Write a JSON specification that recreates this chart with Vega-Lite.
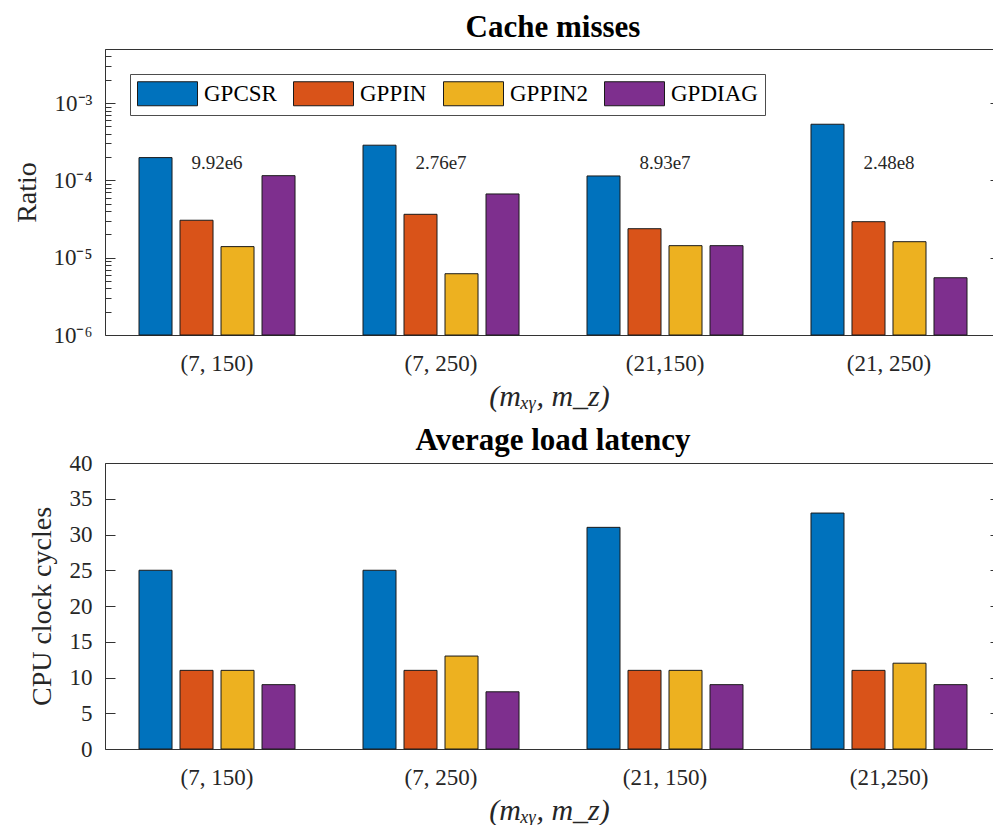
{
  "$schema": "https://vega.github.io/schema/vega-lite/v6.json",
  "padding": {"left": 13, "top": 11, "right": 0, "bottom": 0},
  "background": "white",
  "datasets": {
    "cache": [
      {"cfg": "(7, 150)", "method": "GPCSR", "ratio": 0.000197},
      {"cfg": "(7, 150)", "method": "GPPIN", "ratio": 0.0000305},
      {"cfg": "(7, 150)", "method": "GPPIN2", "ratio": 0.0000139},
      {"cfg": "(7, 150)", "method": "GPDIAG", "ratio": 0.000115},
      {"cfg": "(7, 250)", "method": "GPCSR", "ratio": 0.000285},
      {"cfg": "(7, 250)", "method": "GPPIN", "ratio": 0.0000364},
      {"cfg": "(7, 250)", "method": "GPPIN2", "ratio": 0.0000062},
      {"cfg": "(7, 250)", "method": "GPDIAG", "ratio": 0.0000667},
      {"cfg": "(21,150)", "method": "GPCSR", "ratio": 0.000114},
      {"cfg": "(21,150)", "method": "GPPIN", "ratio": 0.0000237},
      {"cfg": "(21,150)", "method": "GPPIN2", "ratio": 0.0000143},
      {"cfg": "(21,150)", "method": "GPDIAG", "ratio": 0.0000143},
      {"cfg": "(21, 250)", "method": "GPCSR", "ratio": 0.000532},
      {"cfg": "(21, 250)", "method": "GPPIN", "ratio": 0.0000292},
      {"cfg": "(21, 250)", "method": "GPPIN2", "ratio": 0.0000161},
      {"cfg": "(21, 250)", "method": "GPDIAG", "ratio": 0.0000055}
    ],
    "notes": [
      {"cfg": "(7, 150)", "note": "9.92e6"},
      {"cfg": "(7, 250)", "note": "2.76e7"},
      {"cfg": "(21,150)", "note": "8.93e7"},
      {"cfg": "(21, 250)", "note": "2.48e8"}
    ],
    "latency": [
      {"cfg": "(7, 150)", "method": "GPCSR", "cycles": 25},
      {"cfg": "(7, 150)", "method": "GPPIN", "cycles": 11},
      {"cfg": "(7, 150)", "method": "GPPIN2", "cycles": 11},
      {"cfg": "(7, 150)", "method": "GPDIAG", "cycles": 9},
      {"cfg": "(7, 250)", "method": "GPCSR", "cycles": 25},
      {"cfg": "(7, 250)", "method": "GPPIN", "cycles": 11},
      {"cfg": "(7, 250)", "method": "GPPIN2", "cycles": 13},
      {"cfg": "(7, 250)", "method": "GPDIAG", "cycles": 8},
      {"cfg": "(21, 150)", "method": "GPCSR", "cycles": 31},
      {"cfg": "(21, 150)", "method": "GPPIN", "cycles": 11},
      {"cfg": "(21, 150)", "method": "GPPIN2", "cycles": 11},
      {"cfg": "(21, 150)", "method": "GPDIAG", "cycles": 9},
      {"cfg": "(21,250)", "method": "GPCSR", "cycles": 33},
      {"cfg": "(21,250)", "method": "GPPIN", "cycles": 11},
      {"cfg": "(21,250)", "method": "GPPIN2", "cycles": 12},
      {"cfg": "(21,250)", "method": "GPDIAG", "cycles": 9}
    ]
  },
  "spacing": 14,
  "resolve": {"scale": {"color": "independent"}, "legend": {"color": "independent"}},
  "vconcat": [
    {
      "width": 888,
      "height": 286,
      "title": {"text": "Cache misses", "frame": "group", "anchor": "middle", "dx": 4, "offset": -19, "baseline": "alphabetic"},
      "layer": [
        {
          "data": {"name": "cache"},
          "mark": {"type": "bar", "stroke": "#1a1a1a", "strokeWidth": 1},
          "encoding": {
            "x": {
              "field": "cfg", "type": "nominal", "sort": null,
              "scale": {"paddingInner": 0.0714, "paddingOuter": 0.0179, "align": 1},
              "axis": {"orient": "bottom", "title": "(mₓᵧ, m_z)", "ticks": false, "labelAngle": 0, "labelPadding": 17, "titlePadding": 6, "titleFontSize": 30, "titleFontStyle": "italic"}
            },
            "xOffset": {
              "field": "method", "type": "nominal", "sort": ["GPCSR", "GPPIN", "GPPIN2", "GPDIAG"],
              "scale": {"paddingInner": 0.195, "paddingOuter": 0.634}
            },
            "y": {
              "field": "ratio", "type": "quantitative", "stack": null,
              "scale": {"type": "log", "domain": [0.000001, 0.005], "nice": false},
              "axis": {
                "orient": "left", "title": "Ratio", "titleX": -78, "titleY": 143, "titleBaseline": "middle", "titleAlign": "center",
                "values": [0.000001, 0.000002, 0.000003, 0.000004, 0.000005, 0.000006, 0.000007, 0.000008, 0.000009,
                           0.00001, 0.00002, 0.00003, 0.00004, 0.00005, 0.00006, 0.00007, 0.00008, 0.00009,
                           0.0001, 0.0002, 0.0003, 0.0004, 0.0005, 0.0006, 0.0007, 0.0008, 0.0009,
                           0.001, 0.002, 0.003, 0.004, 0.005],
                "labelExpr": "datum.value == 0.001 ? '10⁻³' : datum.value == 0.0001 ? '10⁻⁴' : datum.value == 0.00001 ? '10⁻⁵' : datum.value == 0.000001 ? '10⁻⁶' : ''",
                "tickSize": {"condition": {"test": "indexof([0.000001, 0.00001, 0.0001, 0.001], datum.value) >= 0", "value": -10}, "value": -6},
                "labelPadding": 23,
                "labelBaseline": "middle"
              }
            },
            "y2": {"datum": 0.000001},
            "color": {
              "field": "method", "type": "nominal",
              "scale": {"domain": ["GPCSR", "GPPIN", "GPPIN2", "GPDIAG"], "range": ["#0072BD", "#D95319", "#EDB120", "#7E2F8E"]},
              "legend": {
                "orient": "none", "legendX": 25, "legendY": 25, "direction": "horizontal", "title": null,
                "symbolType": "M-1,-1H4V1H-1Z", "symbolSize": 576, "symbolStrokeColor": "#1a1a1a", "symbolStrokeWidth": 1, "symbolOpacity": 1,
                "labelOffset": 42, "columnPadding": 14, "labelFontSize": 23, "labelFont": "Liberation Serif", "labelColor": "#000",
                "padding": 7, "strokeColor": "#4d4d4d", "fillColor": "white"
              }
            }
          }
        },
        {
          "data": {"name": "notes"},
          "mark": {"type": "text", "fontSize": 19, "font": "Liberation Serif", "color": "#262626", "baseline": "middle", "align": "center"},
          "encoding": {
            "x": {"field": "cfg", "type": "nominal", "sort": null, "axis": {"orient": "top", "title": null, "labels": false, "ticks": false, "domain": true}},
            "y": {"datum": 0.000168, "type": "quantitative", "axis": {"orient": "right", "title": null, "labels": false, "domain": false, "ticks": true, "tickSize": -3, "values": [0.000001, 0.00001, 0.0001, 0.001]}},
            "text": {"field": "note"}
          }
        }
      ],
      "resolve": {"axis": {"x": "independent", "y": "independent"}}
    },
    {
      "width": 888,
      "height": 286,
      "title": {"text": "Average load latency", "frame": "group", "anchor": "middle", "dx": 4, "offset": -29, "baseline": "alphabetic"},
      "layer": [
        {
          "data": {"name": "latency"},
          "mark": {"type": "bar", "stroke": "#1a1a1a", "strokeWidth": 1},
          "encoding": {
            "x": {
              "field": "cfg", "type": "nominal", "sort": null,
              "scale": {"paddingInner": 0.0714, "paddingOuter": 0.0179, "align": 1},
              "axis": {"orient": "bottom", "title": "(mₓᵧ, m_z)", "ticks": false, "labelAngle": 0, "labelPadding": 17, "titlePadding": 6, "titleFontSize": 30, "titleFontStyle": "italic"}
            },
            "xOffset": {
              "field": "method", "type": "nominal", "sort": ["GPCSR", "GPPIN", "GPPIN2", "GPDIAG"],
              "scale": {"paddingInner": 0.195, "paddingOuter": 0.634}
            },
            "y": {
              "field": "cycles", "type": "quantitative", "stack": null,
              "scale": {"domain": [0, 40], "nice": false},
              "axis": {
                "orient": "left", "title": "CPU clock cycles", "titleX": -63, "titleY": 143, "titleBaseline": "middle", "titleAlign": "center",
                "values": [0, 5, 10, 15, 20, 25, 30, 35, 40],
                "tickSize": -10, "labelPadding": 23, "labelBaseline": "middle"
              }
            },
            "color": {
              "field": "method", "type": "nominal",
              "scale": {"domain": ["GPCSR", "GPPIN", "GPPIN2", "GPDIAG"], "range": ["#0072BD", "#D95319", "#EDB120", "#7E2F8E"]},
              "legend": null
            }
          }
        },
        {
          "data": {"name": "latency"},
          "mark": {"type": "text", "text": ""},
          "encoding": {
            "x": {"field": "cfg", "type": "nominal", "sort": null, "axis": {"orient": "top", "title": null, "labels": false, "ticks": false, "domain": true}},
            "y": {"field": "cycles", "type": "quantitative", "axis": {"orient": "right", "title": null, "labels": false, "domain": false, "ticks": true, "tickSize": -3, "values": [0, 5, 10, 15, 20, 25, 30, 35, 40]}}
          }
        }
      ],
      "resolve": {"axis": {"x": "independent", "y": "independent"}}
    }
  ],
  "config": {
    "font": "Liberation Serif",
    "view": {"stroke": null},
    "axis": {
      "labelFont": "Liberation Serif", "titleFont": "Liberation Serif", "labelFontSize": 23, "titleFontSize": 28,
      "titleFontWeight": "normal", "labelColor": "#262626", "titleColor": "#262626",
      "domainColor": "#333333", "tickColor": "#333333", "domainWidth": 1, "tickWidth": 1, "grid": false
    },
    "title": {"font": "Liberation Serif", "fontSize": 31, "fontWeight": "bold", "color": "#000000"}
  }
}
